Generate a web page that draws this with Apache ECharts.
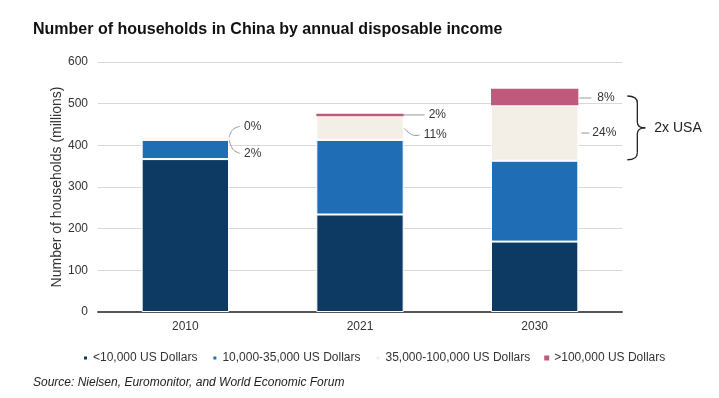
<!DOCTYPE html>
<html>
<head>
<meta charset="utf-8">
<script src="https://cdn.jsdelivr.net/npm/echarts@6/dist/echarts.min.js"></script>
<style>
  html, body { margin: 0; padding: 0; background: #fff; }
  #chart { width: 719px; height: 398px; }
</style>
</head>
<body>
<div id="chart"></div>
<script>
// households (millions) by annual disposable income band
var years = ['2010', '2021', '2030']
var below10k = [367, 234, 169]
var from10kTo35k = [46, 179, 194]
var from35kTo100k = [6, 57, 133]
var above100k = [0, 6, 40]
// share labels shown next to the top two bands
var midShare = ['2%', '11%', '24%']
var topShare = ['0%', '2%', '8%']
var yTicks = [0, 100, 200, 300, 400, 500, 600]

var FONT = '"Liberation Sans", Arial, sans-serif'
var chart = echarts.init(document.getElementById('chart'))

function barSeries(name, data, color, border) {
  return {
    name: name,
    type: 'bar',
    stack: 'total',
    barWidth: '50%',
    data: data,
    itemStyle: { color: color, borderColor: '#fff', borderWidth: border },
    emphasis: { disabled: true }
  }
}

chart.setOption({
  animation: false,
  textStyle: { fontFamily: FONT },
  title: [{
    text: 'Number of households in China by annual disposable income',
    left: 28,
    top: 17,
    textStyle: { fontFamily: FONT, fontSize: 16, fontWeight: 'bold', color: '#111' }
  }, {
    text: 'Source: Nielsen, Euromonitor, and World Economic Forum',
    left: 28,
    top: 372,
    textStyle: { fontFamily: FONT, fontSize: 12, fontStyle: 'italic', fontWeight: 'normal', color: '#222' }
  }],
  legend: {
    left: 77,
    top: 347,
    icon: 'rect',
    itemWidth: 5,
    itemHeight: 5,
    itemGap: 14,
    textStyle: { fontFamily: FONT, fontSize: 12, color: '#333' },
    data: ['<10,000 US Dollars', '10,000-35,000 US Dollars', '35,000-100,000 US Dollars', '>100,000 US Dollars']
  },
  grid: { left: 98, right: 97, top: 62, bottom: 86 },
  xAxis: {
    type: 'category',
    data: years,
    axisTick: { show: false },
    axisLine: { lineStyle: { color: '#555', width: 2 } },
    axisLabel: { color: '#333', fontSize: 12, margin: 9 }
  },
  yAxis: {
    type: 'value',
    min: 0,
    max: yTicks[yTicks.length - 1],
    interval: 100,
    name: 'Number of households (millions)',
    nameLocation: 'middle',
    nameGap: 34,
    nameMoveOverlap: false,
    nameTextStyle: { color: '#333', fontSize: 14 },
    axisLine: { show: false },
    axisTick: { show: false },
    axisLabel: { color: '#333', fontSize: 12, margin: 10 },
    splitLine: { lineStyle: { color: '#d9d9d9' } }
  },
  series: [
    barSeries('<10,000 US Dollars', below10k, '#0d3a63', 1),
    barSeries('10,000-35,000 US Dollars', from10kTo35k, '#1f6db4', 1),
    barSeries('35,000-100,000 US Dollars', from35kTo100k, '#f3eee6', 1),
    barSeries('>100,000 US Dollars', above100k, '#c05a7d', 0)
  ]
})

// annotations placed from the axis scales
function px(i, v) {
  return chart.convertToPixel({ gridIndex: 0 }, [i, v])
}
var band = px(1, 0)[0] - px(0, 0)[0]
var lineStyle = { stroke: '#999', lineWidth: 1, fill: null }
var txtStyle = { fill: '#333', fontSize: 12, fontFamily: FONT, verticalAlign: 'middle' }
var elements = []

function text(x, y, str) {
  elements.push({ type: 'text', x: x, y: y, style: Object.assign({ text: str }, txtStyle), silent: true })
}
function poly(pts) {
  elements.push({ type: 'polyline', shape: { points: pts, smooth: pts.length > 2 ? 0.4 : 0 }, style: lineStyle, silent: true })
}

for (var i = 0; i < years.length; i++) {
  var right = px(i, 0)[0] + band * 0.25
  var base = below10k[i] + from10kTo35k[i]
  var midEnd = base + from35kTo100k[i]
  var barEnd = midEnd + above100k[i]
  var yMid = px(i, (base + midEnd) / 2)[1]
  var yTop = px(i, (midEnd + barEnd) / 2)[1]

  if (i === 0) {
    // both bands are thin: fan the labels out
    var y0 = px(i, barEnd)[1]
    poly([[right, y0], [right + 4, y0 - 8], [right + 11, y0 - 11]])
    poly([[right, y0 + 2], [right + 4, y0 + 12], [right + 11, y0 + 16]])
    text(right + 15, y0 - 11, topShare[i])
    text(right + 15, y0 + 16, midShare[i])
  } else if (i === 1) {
    poly([[right, yTop], [right + 21, yTop]])
    poly([[right, yMid], [right + 9, yMid + 7], [right + 16, yMid + 7]])
    text(right + 25, yTop, topShare[i])
    text(right + 20, yMid + 7, midShare[i])
  } else {
    poly([[right + 1, yTop + 1], [right + 13, yTop + 1]])
    poly([[right + 3, yMid], [right + 11, yMid]])
    text(right + 19, yTop + 1, topShare[i])
    text(right + 14, yMid, midShare[i])
  }
}

// brace around the two upper bands of 2030
var last = years.length - 1
var bx = px(last, 0)[0] + band * 0.25 + 49
var by1 = px(last, below10k[last] + from10kTo35k[last] + from35kTo100k[last] + above100k[last] / 2)[1] - 1
var by2 = px(last, below10k[last] + from10kTo35k[last])[1] - 1
var bm = (by1 + by2) / 2
var xs = bx + 10
var braceStyle = { stroke: '#222', lineWidth: 1.3, fill: null }
function curve(x1, y1, cx, cy, x2, y2) {
  elements.push({ type: 'bezierCurve', shape: { x1: x1, y1: y1, cpx1: cx, cpy1: cy, x2: x2, y2: y2 }, style: braceStyle, silent: true })
}
function seg(x1, y1, x2, y2) {
  elements.push({ type: 'line', shape: { x1: x1, y1: y1, x2: x2, y2: y2 }, style: braceStyle, silent: true })
}
curve(bx, by1, xs, by1, xs, by1 + 7)
seg(xs, by1 + 7, xs, bm - 6)
curve(xs, bm - 6, xs, bm, xs + 8, bm)
curve(xs + 8, bm, xs, bm, xs, bm + 6)
seg(xs, bm + 6, xs, by2 - 7)
curve(xs, by2 - 7, xs, by2, bx, by2)
elements.push({ type: 'text', x: xs + 17, y: bm, style: { text: '2x USA', fill: '#222', fontSize: 14, fontFamily: FONT, verticalAlign: 'middle' }, silent: true })

chart.setOption({ graphic: { elements: elements } })
</script>
</body>
</html>
